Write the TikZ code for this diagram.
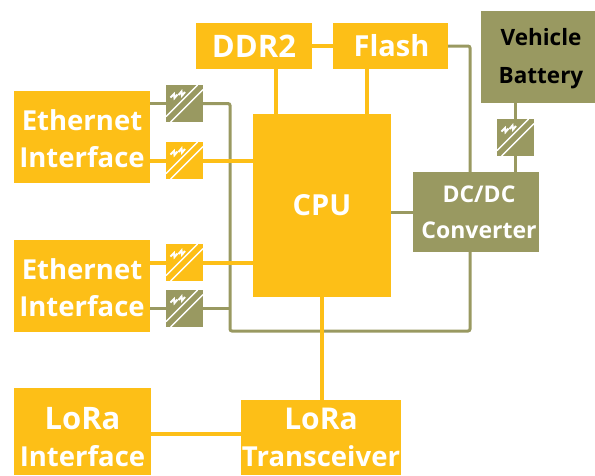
\documentclass[tikz,border=0pt]{standalone}
\usepackage{fontspec}
\setmainfont{Open Sans}
\definecolor{amber}{RGB}{253,191,23}
\definecolor{olive}{RGB}{153,153,97}
\newcommand{\pad}[1]{\rule{0pt}{#1pt}}
\tikzset{
  box/.style={inner sep=0pt,align=center,text=white,font=\bfseries\fontsize{27.5}{37}\selectfont},
  ybox/.style={box,fill=amber},
  obox/.style={box,fill=olive},
  yline/.style={draw=amber,line width=4pt},
  oline/.style={draw=olive,line width=3pt,rounded corners=2pt},
  iso/.style={minimum size=37pt,inner sep=0pt,fill=#1,path picture={
    \draw[white,line width=1.4pt] (path picture bounding box.center) ++(-18.5,13.2) -- ++(31.7,-31.7);
    \draw[white,line width=1.4pt] (path picture bounding box.center) ++(-13.8,18.5) -- ++(32.3,-32.3);
    \draw[white,line width=2pt] (path picture bounding box.center) ++(-14,-6) -- ++(3.5,-3.5) -- ++(0.5,4) -- ++(3,-3.5);
    \draw[white,line width=2pt] (path picture bounding box.center) ++(-6,-8.5) -- ++(3,-3.5) -- ++(0.5,4) -- ++(3,-3.5);
  }}
}
\begin{document}
\begin{tikzpicture}[x=1pt,y=-1pt]
  \useasboundingbox (0,0) rectangle (595,475);
  \node[ybox,minimum width=116,minimum height=46,font=\bfseries\fontsize{31}{37}\selectfont] (ddr) at (254,46) {DDR2};
  \node[ybox,minimum width=115,minimum height=46,font=\bfseries\fontsize{29}{37}\selectfont] (flash) at (390.5,46) {\hspace*{2pt}Flash};
  \node[obox,minimum width=114,minimum height=92,text=black,font=\bfseries\fontsize{22.5}{37.5}\selectfont] (battery) at (538,57) {\pad{20}\hspace*{6pt}Vehicle\\\hspace*{6pt}Battery};
  \node[ybox,minimum width=136,minimum height=92] (ethA) at (82,137) {\pad{25}Ethernet\\Interface};
  \node[ybox,minimum width=136,minimum height=92] (ethB) at (82,286) {\pad{25}Ethernet\\Interface};
  \node[ybox,minimum width=138,minimum height=183,font=\bfseries\fontsize{29}{37}\selectfont] (cpu) at (322,205.5) {CPU};
  \node[obox,minimum width=126,minimum height=80,font=\bfseries\fontsize{23}{36}\selectfont] (dcdc) at (476,212) {\hspace*{6pt}DC/DC\\\hspace*{6pt}Converter};
  \node[ybox,minimum width=137,minimum height=87] (lora) at (82.5,431.5) {{\fontsize{31}{37}\selectfont\pad{33}LoRa}\\Interface};
  \node[ybox,minimum width=160,minimum height=75] (radio) at (321,437.5) {{\fontsize{30}{37}\selectfont LoRa}\\Transceiver};
  \node[iso=olive] (isoA) at (184.5,103.5) {};
  \node[iso=amber] (isoB) at (184.5,160.5) {};
  \node[iso=amber] (isoC) at (184.5,262.5) {};
  \node[iso=olive] (isoD) at (184.5,308.5) {};
  \node[iso=olive] (isoE) at (515.5,137.5) {};
  \coordinate (busT) at (230,103.5);
  \coordinate (busB) at (230,331);
  \coordinate (busR) at (470,331);
  \coordinate (feed) at (470,46);
  \draw[oline] (ethA.east |- isoA.west) -- (isoA.west);
  \draw[oline] (isoA.east) -- (busT) -- (busB) -- (busR) -- (dcdc.south -| busR);
  \draw[oline] (ethB.east |- isoD.west) -- (isoD.west);
  \draw[oline] (isoD.east) -- (isoD.east -| busT);
  \draw[oline] (flash.east) -- (feed) -- (dcdc.north -| feed);
  \draw[oline] (isoE.north) -- (isoE.north |- battery.south);
  \draw[oline] (isoE.south) -- (isoE.south |- dcdc.north);
  \draw[oline] (cpu.east |- dcdc.west) -- (dcdc.west);
  \draw[yline] (ethA.east |- isoB.west) -- (isoB.west);
  \draw[yline] (isoB.east) -- (isoB.east -| cpu.west);
  \draw[yline] (ethB.east |- isoC.west) -- (isoC.west);
  \draw[yline] (isoC.east) -- (isoC.east -| cpu.west);
  \draw[yline] (ddr.east) -- (flash.west);
  \draw[yline] (ddr.south -| 276,0) -- (cpu.north -| 276,0);
  \draw[yline] (flash.south -| 367,0) -- (cpu.north -| 367,0);
  \draw[yline] (cpu.south) -- (cpu.south |- radio.north);
  \draw[yline] (lora.east |- 0,434) -- (radio.west |- 0,434);
\end{tikzpicture}
\end{document}
